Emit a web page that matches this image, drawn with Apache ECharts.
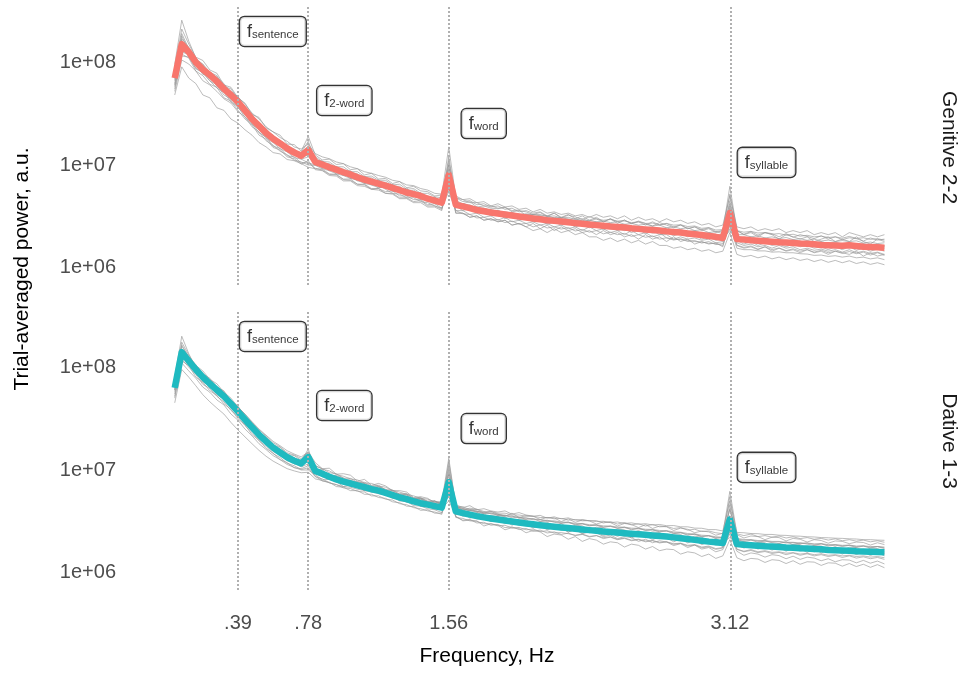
<!DOCTYPE html>
<html>
<head>
<meta charset="utf-8">
<script src="https://cdn.jsdelivr.net/npm/echarts@6/dist/echarts.min.js"></script>
<style>
  html, body { margin: 0; padding: 0; background: #ffffff; }
  #chart { width: 963px; height: 679px; }
</style>
</head>
<body>
<div id="chart"></div>
<script>
// Spectral bins: k * 0.0390625 Hz, k = 1..102
const binHz = 0.0390625;
const freqHz = Array.from({ length: 102 }, (_, i) => (i + 1) * binHz);

// Power values are stored in units of 1e6 a.u.
const UNIT = 1e6;

// Tagged rates and their tick labels
const markerHz = [0.390625, 0.78125, 1.5625, 3.125];
const markerTicks = ['.39', '.78', '1.56', '3.12'];
const markerNames = ['sentence', '2-word', 'word', 'syllable'];
const labelPower = [199, 42.4, 25.3, 10.6];

const yTickValues = [1e6, 1e7, 1e8];
const yTickLabels = ['1e+06', '1e+07', '1e+08'];

const conditions = ['Genitive 2-2', 'Dative 1-3'];

// Grand-average spectra
const genitiveMean = [
  70,150,125,100,85,75,65,55,48,41,
  34,28,24,20.5,18,16.2,14.5,13.2,12.3,14,
  10.7,10.1,9.5,9.0,8.5,8.1,7.6,7.2,6.9,6.6,
  6.3,6.0,5.7,5.4,5.2,5.0,4.7,4.5,4.3,8.0,
  4.1,3.95,3.8,3.65,3.55,3.45,3.38,3.3,3.22,3.15,
  3.08,3.02,2.96,2.9,2.86,2.82,2.77,2.72,2.68,2.64,
  2.6,2.56,2.52,2.49,2.46,2.42,2.39,2.36,2.33,2.3,
  2.26,2.23,2.2,2.16,2.12,2.08,2.04,2.0,1.95,3.4,
  1.9,1.88,1.85,1.83,1.81,1.79,1.77,1.76,1.74,1.72,
  1.71,1.69,1.67,1.66,1.65,1.64,1.66,1.63,1.6,1.59,1.58,1.57
];
const dativeMean = [
  63,140,115,95,80,69,60,52,44,37,
  31,26,22,19,16.5,14.8,13.3,12.3,11.6,13.4,
  9.8,9.2,8.6,8.1,7.7,7.4,7.1,6.8,6.5,6.3,
  6.0,5.7,5.4,5.2,4.95,4.75,4.6,4.45,4.3,7.6,
  3.95,3.8,3.68,3.56,3.46,3.38,3.3,3.22,3.15,3.08,
  3.02,2.96,2.9,2.85,2.8,2.76,2.72,2.68,2.64,2.6,
  2.56,2.52,2.49,2.46,2.43,2.4,2.37,2.34,2.31,2.28,
  2.25,2.21,2.17,2.13,2.09,2.05,2.01,1.98,1.95,3.3,
  1.9,1.87,1.85,1.83,1.81,1.8,1.78,1.76,1.75,1.73,
  1.72,1.7,1.69,1.67,1.66,1.65,1.64,1.62,1.61,1.6,1.59,1.58
];

// Per-participant spectra, Genitive 2-2
const genitiveSubjects = [
  [85,210,150,112,104,84,78,60,57,45, 40,31,29,23,21,19.5,16,15.8,13.6,19, 12.5,11.2,11.4,10.1,10.3,9.0,9.2,8.0,8.3,7.3, 7.4,6.6,6.9,6.0,6.2,5.6,5.5,5.0,5.1,15, 4.8,4.4,4.5,4.1,4.2,3.9,4.0,3.7,3.8,3.5, 3.6,3.4,3.5,3.2,3.4,3.1,3.3,3.0,3.2,2.9, 3.1,2.8,3.0,2.8,2.9,2.7,2.8,2.6,2.8,2.6, 2.7,2.5,2.6,2.4,2.5,2.3,2.4,2.2,2.3,6.2, 2.3,2.1,2.2,2.0,2.2,2.1,1.9,2.1,2.0,1.9, 2.0,1.8,1.9,2.0,1.8,1.9,1.8,2.0,1.8,1.7,1.9,1.8],
  [55,120,110,82,74,61,57,45,42,34, 28,24.5,19.5,17.8,14.8,14,12,11.5,10.2,11, 9.0,8.8,7.9,7.8,7.0,7.0,6.3,6.2,5.8,5.7, 5.3,5.2,4.7,4.7,4.3,4.3,3.9,3.9,3.6,7.5, 3.4,3.4,3.1,3.2,2.9,3.0,2.8,2.9,2.6,2.7, 2.5,2.7,2.4,2.6,2.3,2.5,2.3,2.4,2.2,2.3, 2.1,2.3,2.1,2.2,2.0,2.1,1.9,2.1,1.9,2.0, 1.8,2.0,1.8,1.9,1.7,1.8,1.7,1.75,1.6,3.0, 1.65,1.55,1.6,1.5,1.6,1.45,1.55,1.45,1.5,1.4, 1.5,1.4,1.45,1.35,1.45,1.4,1.35,1.45,1.3,1.4,1.3,1.35],
  [75,160,130,98,88,72,67,53,50,40, 35,27,25,20,18.5,15.8,15,13,12.8,15, 12,10.8,10.7,9.6,9.6,8.6,8.6,7.7,7.8,7.1, 7.1,6.4,6.5,5.8,5.9,5.3,5.3,4.9,4.8,11, 5.0,4.6,4.7,4.3,4.4,4.0,4.2,3.9,4.0,3.7, 3.8,3.5,3.7,3.4,3.5,3.3,3.4,3.2,3.3,3.1, 3.3,3.1,3.2,3.0,3.2,2.9,3.1,2.9,3.0,2.8, 3.0,2.8,2.9,2.7,2.8,2.6,2.7,2.5,2.6,5.0, 2.5,2.4,2.5,2.3,2.4,2.3,2.4,2.2,2.3,2.2, 2.3,2.1,2.2,2.1,2.2,2.0,2.2,2.1,2.0,2.1,2.0,2.1],
  [70,170,140,108,96,80,74,58,55,44, 37,28,26,21,19.5,16.5,15.6,13.5,13.2,13, 10.0,9.8,8.8,8.8,7.9,7.8,7.0,7.0,6.4,6.4, 5.8,5.3,5.2,4.8,4.8,4.4,4.3,4.0,3.8,7.0, 3.4,3.4,3.1,3.2,2.9,3.0,2.8,2.9,2.6,2.7, 2.5,2.3,2.4,2.2,2.4,2.2,2.3,2.1,2.2,2.0, 2.0,1.85,1.95,1.8,1.9,1.75,1.85,1.7,1.8,1.65, 1.65,1.55,1.6,1.5,1.55,1.45,1.5,1.4,1.45,2.2, 1.35,1.28,1.32,1.25,1.3,1.22,1.27,1.2,1.25,1.18, 1.22,1.15,1.2,1.13,1.18,1.12,1.17,1.1,1.14,1.08,1.12,1.07],
  [48,90,70,62,48,45,36,34,28,25.5, 22,19.5,16.5,15,13.2,12.8,11.3,11,10.3,9.5, 9.2,9.1,8.2,8.1,7.3,7.3,6.5,6.5,5.9,5.9, 5.5,5.6,5.0,5.0,4.6,4.6,4.1,4.2,3.8,5.5, 3.6,3.6,3.3,3.4,3.1,3.2,2.9,3.1,2.8,2.9, 2.7,2.8,2.6,2.7,2.5,2.6,2.4,2.5,2.3,2.5, 2.3,2.4,2.2,2.3,2.1,2.3,2.1,2.2,2.0,2.1, 2.1,1.9,2.0,1.9,1.95,1.85,1.9,1.75,1.8,2.4, 1.75,1.65,1.7,1.6,1.65,1.55,1.65,1.55,1.6,1.5, 1.55,1.48,1.52,1.45,1.5,1.42,1.5,1.4,1.45,1.38,1.42,1.35],
  [95,256,160,110,82,72,62,57,46,42, 33,29,23,21,17.5,16.8,14,13.6,12,12.5, 10.9,9.8,9.8,8.7,8.7,7.9,7.8,7.0,7.1,6.4, 6.5,5.8,5.9,5.2,5.4,4.8,4.9,4.4,4.4,9.0, 4.2,3.8,3.9,3.5,3.7,3.3,3.5,3.2,3.3,3.0, 3.2,2.9,3.1,2.8,2.9,2.7,2.9,2.6,2.8,2.55, 2.7,2.5,2.6,2.4,2.55,2.35,2.5,2.3,2.4,2.25, 2.35,2.15,2.3,2.1,2.2,2.0,2.15,1.95,2.0,3.8, 1.95,1.85,1.9,1.8,1.9,1.75,1.85,1.7,1.8,1.7, 1.75,1.65,1.72,1.6,1.7,1.6,1.7,1.58,1.65,1.55,1.62,1.55],
  [62,130,118,98,76,74,58,54,43,40, 31,27.5,22,20,16.6,15.8,13.5,12.9,11.4,12, 10.5,9.3,9.4,8.2,8.3,7.4,7.5,6.6,6.8,6.0, 6.2,5.5,5.6,5.0,5.1,4.6,4.6,4.2,4.2,6.0, 4.0,3.6,3.8,3.4,3.5,3.2,3.4,3.0,3.2,2.9, 3.0,2.8,2.9,2.65,2.8,2.6,2.7,2.5,2.6,2.45, 2.6,2.35,2.5,2.3,2.4,2.2,2.35,2.15,2.3,2.1, 2.2,2.05,2.15,2.0,2.1,1.9,2.0,1.85,1.9,2.8, 1.85,1.7,1.8,1.65,1.75,1.65,1.7,1.6,1.7,1.6, 1.65,1.55,1.6,1.5,1.6,1.5,1.6,1.48,1.55,1.45,1.52,1.45],
  [78,190,135,104,92,78,70,57,51,43, 37,29,26,21,19.5,16.8,15.6,13.6,13.2,17, 11.2,10.8,9.9,9.6,8.9,8.6,7.9,7.7,7.2,7.0, 6.6,6.4,5.9,5.8,5.4,5.3,4.9,4.8,4.5,12, 4.4,4.1,4.1,3.8,3.8,3.6,3.6,3.4,3.45,3.3, 3.3,3.15,3.2,3.0,3.1,2.95,3.0,2.85,2.9,2.75, 2.8,2.65,2.7,2.6,2.65,2.5,2.55,2.45,2.5,2.4, 2.45,2.3,2.35,2.25,2.3,2.15,2.2,2.1,2.1,4.5, 2.05,1.95,2.0,1.9,1.95,1.85,1.9,1.82,1.87,1.78, 1.83,1.75,1.8,1.72,1.78,1.7,1.76,1.68,1.72,1.65,1.7,1.63],
  [58,115,112,88,78,66,60,48,44,36, 31,25,22,18.2,16.5,14.4,13.4,11.8,11.4,10.5, 10.0,9.6,9.0,8.6,8.0,7.8,7.2,6.9,6.5,6.3, 6.4,5.9,5.8,5.3,5.3,4.9,4.8,4.4,4.4,6.8, 4.3,4.2,4.0,3.9,3.7,3.7,3.5,3.5,3.4,3.3, 3.3,3.3,3.2,3.2,3.05,3.1,2.95,3.0,2.85,2.9, 2.8,2.85,2.75,2.8,2.65,2.7,2.6,2.65,2.55,2.6, 2.45,2.5,2.4,2.45,2.3,2.35,2.2,2.25,2.15,3.1, 2.1,2.1,2.0,2.05,1.95,2.0,1.92,1.97,1.88,1.92, 1.85,1.9,1.82,1.86,1.8,1.84,1.8,1.83,1.74,1.78,1.72,1.75],
  [66,140,122,102,90,80,70,60,52,46, 39,32,28,23.5,21,18.5,17,15,14.3,16, 12.9,12.0,11.5,10.7,10.3,9.6,9.2,8.6,8.3,7.9, 7.6,7.1,6.9,6.4,6.3,5.9,5.7,5.3,5.2,10, 4.8,4.6,4.3,4.3,4.0,4.0,3.8,3.85,3.6,3.65, 3.2,3.2,3.05,3.1,2.95,3.0,2.85,2.9,2.75,2.8, 2.5,2.45,2.4,2.4,2.3,2.35,2.25,2.27,2.18,2.2, 1.95,1.9,1.88,1.85,1.8,1.78,1.73,1.72,1.65,2.6, 1.55,1.5,1.5,1.46,1.46,1.42,1.43,1.4,1.4,1.37, 1.36,1.32,1.33,1.29,1.31,1.27,1.3,1.25,1.27,1.22,1.25,1.2],
  [52,105,96,82,66,60,52,44,40,33, 29.5,23.5,21,17.2,15.6,13.6,12.6,11.1,10.7,10, 9.9,9.2,8.8,8.2,7.9,7.4,7.1,6.6,6.4,6.0, 6.1,5.9,5.6,5.5,5.1,5.1,4.6,4.6,4.2,8.5, 4.2,4.2,4.0,3.8,3.8,3.6,3.6,3.4,3.4,3.3, 3.35,3.3,3.3,3.15,3.2,3.05,3.1,2.95,3.0,2.85, 3.0,2.9,2.95,2.85,2.85,2.75,2.8,2.7,2.72,2.62, 2.7,2.6,2.62,2.52,2.55,2.42,2.46,2.33,2.35,4.2, 2.3,2.22,2.26,2.18,2.2,2.12,2.15,2.08,2.12,2.03, 2.07,2.0,2.03,1.97,2.0,1.94,2.02,1.93,1.96,1.89,1.92,1.86],
  [68,125,120,96,88,73,66,54,49,40, 34.5,27.5,24.5,20,18.3,15.9,14.8,12.9,12.5,12.5, 10.5,10.3,9.3,9.2,8.3,8.3,7.4,7.4,6.8,6.8, 6.1,6.2,5.5,5.6,5.0,5.1,4.6,4.6,4.2,5.8, 4.0,4.05,3.7,3.75,3.45,3.55,3.3,3.4,3.15,3.25, 3.0,3.1,2.9,3.0,2.8,2.9,2.7,2.8,2.62,2.72, 2.55,2.62,2.46,2.56,2.4,2.48,2.33,2.42,2.28,2.36, 2.2,2.3,2.15,2.22,2.07,2.14,1.99,2.08,1.92,2.3, 1.88,1.92,1.82,1.87,1.78,1.83,1.74,1.8,1.71,1.76, 1.68,1.74,1.64,1.7,1.62,1.68,1.63,1.66,1.57,1.63,1.55,1.6],
  [80,180,128,106,95,76,72,62,50,46, 36,31,25.5,22.5,18.8,17.4,15.2,14.3,12.6,13.5, 11.5,10.4,10.3,9.3,9.1,8.4,8.2,7.4,7.5,6.8, 6.8,6.2,6.2,5.5,5.7,5.1,5.0,4.7,4.5,10, 4.3,4.05,3.9,3.85,3.6,3.65,3.4,3.45,3.25,3.3, 3.05,3.15,2.92,3.05,2.85,2.8,2.9,2.66,2.78,2.6, 2.7,2.52,2.62,2.44,2.58,2.38,2.48,2.42,2.28,2.4, 2.3,2.18,2.3,2.12,2.2,2.15,2.0,2.1,1.96,4.0, 1.98,1.84,1.95,1.8,1.92,1.86,1.74,1.85,1.72,1.82, 1.76,1.66,1.78,1.64,1.74,1.62,1.73,1.68,1.58,1.7,1.6,1.64],
  [60,140,115,86,80,66,56,51,41,37, 29,25.5,20.5,18.8,15.2,14.5,12.3,12.0,10.5,10.5, 9.3,8.9,8.1,8.0,7.2,7.1,6.5,6.4,5.8,5.9, 5.3,5.3,4.8,4.8,4.4,4.5,4.0,4.0,3.7,6.2, 3.6,3.35,3.3,3.05,3.1,2.9,2.95,2.75,2.85,2.65, 2.7,2.5,2.62,2.44,2.5,2.38,2.46,2.28,2.36,2.22, 2.3,2.14,2.22,2.1,2.16,2.02,2.1,1.98,2.04,1.9, 1.96,1.86,1.92,1.8,1.84,1.74,1.8,1.68,1.72,2.6, 1.66,1.58,1.63,1.52,1.6,1.5,1.56,1.47,1.53,1.45, 1.5,1.42,1.48,1.4,1.45,1.38,1.44,1.37,1.42,1.33,1.4,1.32],
  [72,165,118,104,82,80,60,58,45,43, 32,30,22.5,22,16.8,17,13.8,14.2,11.6,15.5, 10.2,11.0,9.1,9.6,8.2,8.8,7.3,7.8,6.6,7.2, 6.0,6.5,5.4,6.0,4.9,5.4,4.5,4.9,4.1,9.5, 4.5,4.2,4.4,3.9,4.0,3.8,3.75,3.9,3.5,3.6, 3.5,3.3,3.45,3.15,3.4,3.05,3.25,3.12,2.95,3.15, 2.98,2.8,3.0,2.7,2.92,2.68,2.85,2.7,2.55,2.75, 2.6,2.45,2.62,2.4,2.5,2.35,2.45,2.25,2.3,5.2, 2.3,2.12,2.25,2.08,2.2,2.15,2.0,2.15,1.98,2.1, 2.02,1.92,2.05,1.9,2.0,1.88,1.96,1.92,1.82,1.95,1.86,1.9]
];

// Per-participant spectra, Dative 1-3
const dativeSubjects = [
  [72,175,131,104,92,76,69,57,50,41, 35,29,24.5,21.5,18.4,16.8,14.7,14.0,12.9,15, 11.1,10.2,9.8,9.0,8.7,8.2,8.0,7.5,7.4,7.0, 6.8,6.3,6.1,5.8,5.6,5.3,5.2,4.9,4.9,13, 4.45,4.2,4.15,3.95,3.9,3.75,3.72,3.58,3.56,3.42, 3.4,3.28,3.27,3.16,3.15,3.06,3.07,2.97,2.98,2.88, 2.9,2.8,2.82,2.73,2.75,2.66,2.68,2.6,2.61,2.53, 2.54,2.45,2.45,2.36,2.36,2.27,2.28,2.2,2.2,5.5, 2.14,2.07,2.09,2.03,2.04,1.99,2.0,1.95,1.97,1.92, 1.94,1.89,1.91,1.85,1.87,1.83,1.85,1.8,1.82,1.77,1.8,1.75],
  [52,115,104,80,71,59,53,44,39,31.5, 27.5,22,19.5,16.2,14.6,12.6,11.8,10.5,10.3,11, 8.7,7.8,7.6,6.9,6.8,6.3,6.3,5.8,5.8,5.4, 5.3,4.9,4.8,4.45,4.4,4.05,4.1,3.8,3.8,6.0, 3.5,3.25,3.3,3.05,3.1,2.9,2.95,2.75,2.8,2.63, 2.7,2.53,2.6,2.44,2.5,2.36,2.43,2.3,2.36,2.23, 2.3,2.15,2.22,2.1,2.16,2.05,2.1,2.0,2.05,1.95, 2.0,1.89,1.93,1.82,1.86,1.75,1.79,1.69,1.74,2.6, 1.69,1.6,1.65,1.57,1.61,1.54,1.58,1.5,1.56,1.48, 1.53,1.46,1.5,1.44,1.48,1.41,1.46,1.39,1.43,1.37,1.41,1.35],
  [66,150,112,97,78,71,58,53,43,38, 30,26.5,21.5,19.5,16.2,15.2,13.1,12.7,11.5,14, 10.2,9.8,9.0,8.7,8.1,8.0,7.5,7.4,6.9,6.9, 6.4,6.3,5.8,5.8,5.3,5.3,5.0,5.0,4.7,10, 4.4,4.4,4.1,4.15,3.95,3.95,3.8,3.8,3.65,3.65, 3.55,3.55,3.45,3.45,3.35,3.38,3.25,3.3,3.2,3.22, 3.15,3.17,3.08,3.12,3.02,3.06,2.97,3.0,2.92,2.95, 2.87,2.88,2.8,2.8,2.72,2.71,2.63,2.63,2.55,5.0, 2.47,2.45,2.41,2.4,2.36,2.36,2.32,2.31,2.28,2.27, 2.24,2.23,2.2,2.19,2.17,2.16,2.14,2.13,2.1,2.1,2.08,2.07],
  [68,160,126,103,86,75,64,57,47,40, 33.5,28,23.5,20.5,17.6,15.9,14.1,13.1,12.1,12.5, 10.0,9.5,8.7,8.3,7.7,7.5,7.0,6.8,6.3,6.2, 5.7,5.5,5.0,4.95,4.5,4.45,4.2,4.1,3.85,7.0, 3.55,3.2,3.25,3.2,2.85,3.0,2.9,2.62,2.75,2.7, 2.45,2.58,2.5,2.25,2.38,2.33,2.12,2.25,2.02,2.15, 2.08,1.9,2.0,1.96,1.78,1.9,1.85,1.7,1.8,1.64, 1.7,1.68,1.52,1.6,1.56,1.44,1.52,1.38,1.46,2.1, 1.4,1.31,1.38,1.36,1.26,1.34,1.32,1.23,1.31,1.21, 1.28,1.27,1.18,1.25,1.24,1.16,1.23,1.15,1.21,1.13,1.2,1.12],
  [45,95,80,66,54,46,40,35,29,24.5, 21,18,15.5,13.6,12.2,11.2,10.3,9.8,9.4,9.5, 8.2,7.9,7.5,7.2,6.9,6.8,6.5,6.3,6.1,5.9, 5.7,5.4,5.2,5.0,4.8,4.6,4.5,4.3,4.2,5.0, 3.7,3.85,3.4,3.6,3.45,3.15,3.3,3.25,2.9,3.1, 2.98,2.72,2.9,2.62,2.78,2.74,2.48,2.66,2.42,2.58, 2.52,2.3,2.45,2.26,2.4,2.18,2.34,2.3,2.1,2.25, 2.2,2.0,2.14,1.95,2.08,1.88,2.0,1.96,1.8,2.5, 1.88,1.74,1.84,1.7,1.8,1.66,1.77,1.62,1.74,1.72, 1.58,1.7,1.56,1.67,1.65,1.52,1.63,1.5,1.6,1.47,1.58,1.46],
  [80,200,135,98,78,72,58,55,42,39, 29.5,27.5,20.8,19.8,15.6,15.4,12.6,12.9,11.0,13, 10.4,8.8,9.1,7.7,8.1,7.0,7.5,6.4,6.9,5.9, 6.3,5.4,5.7,4.9,5.2,4.5,4.8,4.2,4.5,9.0, 4.15,3.6,3.9,3.4,3.65,3.2,3.45,3.06,3.3,2.95, 3.15,2.82,3.03,2.72,2.92,2.64,2.83,2.56,2.75,2.5, 2.68,2.42,2.6,2.36,2.54,2.3,2.47,2.25,2.41,2.2, 2.34,2.12,2.27,2.04,2.18,1.98,2.1,1.9,2.02,3.6, 1.98,1.8,1.93,1.76,1.9,1.73,1.86,1.7,1.83,1.67, 1.8,1.65,1.77,1.62,1.74,1.6,1.71,1.58,1.69,1.56,1.67,1.54],
  [58,125,112,86,79,63,59,48,43,34, 30.5,24.2,21.8,17.6,16.3,13.8,13.2,11.4,11.4,12, 9.6,8.6,8.4,7.6,7.5,6.9,6.9,6.3,6.3,5.9, 5.8,5.3,5.2,4.85,4.8,4.45,4.45,4.15,4.15,7.5, 3.85,3.55,3.6,3.35,3.36,3.16,3.2,3.02,3.06,2.9, 2.95,2.78,2.84,2.68,2.74,2.6,2.66,2.52,2.58,2.45, 2.5,2.38,2.43,2.32,2.37,2.26,2.31,2.2,2.26,2.15, 2.2,2.08,2.12,2.0,2.04,1.92,1.96,1.86,1.9,3.0, 1.85,1.76,1.8,1.72,1.77,1.69,1.74,1.66,1.71,1.63, 1.68,1.6,1.66,1.58,1.63,1.56,1.61,1.53,1.58,1.51,1.56,1.5],
  [65,150,122,101,83,73,63,55,46,39, 32.5,27.5,23,20,17.3,15.6,13.9,13,12.1,16, 10.0,10.1,8.7,8.8,8.4,7.5,7.7,7.4,6.6,6.9, 6.5,5.8,5.9,5.7,5.0,5.2,4.9,4.6,4.7,11, 4.0,4.15,3.7,3.85,3.75,3.4,3.6,3.5,3.15,3.35, 3.28,2.95,3.15,3.1,2.85,3.02,2.72,2.9,2.86,2.62, 2.78,2.74,2.5,2.66,2.62,2.42,2.58,2.38,2.5,2.46, 2.25,2.4,2.36,2.15,2.27,2.22,2.02,2.15,1.98,4.6, 2.06,2.02,1.86,1.98,1.96,1.8,1.93,1.78,1.9,1.88, 1.74,1.84,1.82,1.69,1.8,1.66,1.77,1.76,1.62,1.74,1.72,1.6],
  [60,130,104,88,72,65,54,49,40,35, 28,24.5,20,17.8,15.1,14,12.3,11.7,10.7,11.5, 9.2,8.8,8.2,7.9,7.5,7.3,7.0,6.8,6.5,6.4, 6.1,5.85,5.6,5.4,5.2,5.0,4.9,4.75,4.6,6.5, 4.3,4.15,4.05,3.95,3.85,3.75,3.7,3.6,3.55,3.45, 3.42,3.33,3.3,3.22,3.2,3.12,3.1,3.03,3.01,2.94, 2.93,2.86,2.85,2.79,2.78,2.72,2.71,2.65,2.64,2.58, 2.57,2.5,2.48,2.41,2.39,2.32,2.3,2.24,2.22,3.2, 2.16,2.11,2.1,2.06,2.06,2.02,2.02,1.98,1.98,1.94, 1.95,1.91,1.92,1.88,1.88,1.85,1.86,1.82,1.83,1.8,1.8,1.78],
  [62,140,118,98,84,72,64,56,48,41, 35,29.5,25,21.8,19,17.2,15.4,14.3,13.4,15, 11.8,10.3,10.4,9.1,9.2,8.9,7.8,8.1,7.1,7.4, 7.0,6.3,6.3,6.1,5.4,5.5,5.3,4.8,4.9,9.5, 4.4,3.95,4.05,3.9,3.5,3.6,3.55,3.2,3.3,3.25, 2.9,3.05,2.95,2.7,2.8,2.75,2.5,2.62,2.4,2.5, 2.45,2.25,2.33,2.15,2.25,2.2,2.02,2.12,1.96,2.05, 1.99,1.84,1.92,1.76,1.86,1.7,1.76,1.6,1.68,2.4, 1.62,1.48,1.56,1.52,1.42,1.5,1.47,1.37,1.45,1.35, 1.42,1.39,1.31,1.37,1.28,1.34,1.33,1.25,1.32,1.24,1.3,1.22],
  [50,110,92,78,64,57,48,43,35,30.5, 25,21.5,18,15.8,13.8,12.6,11.3,10.6,10.0,10, 9.0,8.0,8.1,7.7,6.9,7.2,7.0,6.3,6.5,6.4, 5.8,5.9,5.7,5.1,5.3,5.2,4.7,4.9,4.8,8.0, 4.5,4.05,4.25,4.15,3.8,3.95,3.7,3.55,3.8,3.45, 3.6,3.55,3.3,3.45,3.42,3.15,3.35,3.1,3.25,3.2, 2.98,3.12,3.08,2.85,3.02,2.95,2.75,2.94,2.7,2.85, 2.8,2.58,2.72,2.65,2.45,2.55,2.5,2.32,2.42,4.1, 2.35,2.18,2.28,2.25,2.1,2.22,2.2,2.04,2.16,2.12, 1.99,2.1,2.06,1.94,2.04,2.02,1.92,1.99,1.97,1.86,1.96,1.88],
  [66,120,120,92,82,67,62,50,46,36, 32.5,25,22.8,18.5,17,14.4,13.7,12,11.9,12, 10.1,9.1,8.9,8.0,7.9,7.2,7.3,6.6,6.7,6.1, 6.2,5.6,5.6,5.1,5.1,4.65,4.75,4.35,4.45,5.5, 4.05,3.72,3.8,3.48,3.55,3.3,3.38,3.14,3.24,3.0, 3.1,2.88,2.98,2.78,2.88,2.69,2.8,2.61,2.72,2.53, 2.64,2.46,2.57,2.4,2.5,2.34,2.44,2.28,2.38,2.22, 2.31,2.15,2.23,2.07,2.15,1.99,2.07,1.92,2.0,2.2, 1.95,1.82,1.91,1.78,1.87,1.75,1.84,1.72,1.81,1.69, 1.78,1.66,1.75,1.64,1.73,1.62,1.7,1.6,1.68,1.58,1.66,1.56],
  [70,165,125,106,86,78,64,59,47,42, 33,29,23.5,21,17.5,16.6,14.2,13.8,12.4,14, 10.9,10.3,9.4,9.2,8.3,8.3,7.6,7.6,7.0,7.1, 6.4,6.4,5.8,5.9,5.3,5.4,4.9,5.0,4.6,9.0, 4.4,4.25,4.0,4.0,3.75,3.85,3.6,3.65,3.42,3.5, 3.3,3.38,3.15,3.25,3.1,3.02,3.12,2.92,3.02,2.86, 2.92,2.76,2.85,2.7,2.78,2.62,2.72,2.58,2.62,2.5, 2.56,2.4,2.46,2.32,2.38,2.24,2.3,2.16,2.2,4.2, 2.12,2.0,2.08,1.98,2.04,1.96,1.92,2.0,1.88,1.96, 1.9,1.84,1.92,1.82,1.86,1.8,1.85,1.76,1.82,1.74,1.8,1.72],
  [55,120,100,85,68,62,52,46,38,33, 27,23.2,19.2,17,14.4,13.2,11.6,11.0,10.1,10.5, 8.6,8.2,7.5,7.2,6.7,6.6,6.2,6.1,5.6,5.6, 5.2,5.1,4.7,4.6,4.3,4.2,4.0,3.9,3.7,6.5, 3.45,3.38,3.2,3.16,3.0,3.0,2.86,2.9,2.72,2.76, 2.62,2.66,2.52,2.56,2.44,2.46,2.4,2.32,2.38,2.26, 2.3,2.2,2.24,2.12,2.18,2.08,2.12,2.04,2.06,1.98, 2.0,1.92,1.94,1.85,1.88,1.78,1.82,1.72,1.76,2.8, 1.7,1.62,1.68,1.6,1.64,1.58,1.6,1.55,1.57,1.52, 1.55,1.5,1.53,1.48,1.5,1.46,1.48,1.44,1.46,1.42,1.44,1.4],
  [60,145,110,96,77,72,57,54,42,39, 30,27.5,21,19.8,15.8,15.2,12.8,12.6,11.2,13, 10.0,9.6,8.7,8.6,7.9,7.9,7.2,7.3,6.6,6.8, 6.2,6.2,5.6,5.7,5.2,5.3,4.8,5.0,4.5,12, 4.6,4.3,4.5,4.1,4.2,4.0,3.9,4.0,3.72,3.85, 3.65,3.55,3.62,3.4,3.5,3.35,3.42,3.25,3.3,3.2, 3.22,3.05,3.15,2.98,3.08,2.92,3.0,2.85,2.95,2.8, 2.82,2.7,2.75,2.6,2.65,2.52,2.55,2.45,2.4,6.2, 2.4,2.3,2.38,2.25,2.3,2.22,2.28,2.18,2.24,2.15, 2.2,2.12,2.16,2.08,2.14,2.05,2.1,2.03,2.08,2.0,2.05,1.98]
];

const panels = [
  { name: conditions[0], mean: genitiveMean, subjects: genitiveSubjects, color: '#F8766D' },
  { name: conditions[1], mean: dativeMean, subjects: dativeSubjects, color: '#1FBAC0' }
];

const FONT = '"Liberation Sans", Arial, Helvetica, sans-serif';
const PANEL_TOP = [5, 310];
const PANEL_H = 280;
const labelGap = [2, 9, 13, 8];

const toPairs = arr => arr.map((v, i) => [freqHz[i], v * UNIT]);
const nearestIndex = (list, v) => {
  let best = 0;
  list.forEach((x, i) => { if (Math.abs(x - v) < Math.abs(list[best] - v)) best = i; });
  return best;
};

const grids = [], xAxes = [], yAxes = [], series = [];

panels.forEach((p, idx) => {
  grids.push({ left: 140, right: 43, top: PANEL_TOP[idx], height: PANEL_H });
  xAxes.push({
    type: 'value', gridIndex: idx, min: -0.154, max: 4.182,
    axisLine: { show: false }, axisTick: { show: false }, splitLine: { show: false },
    axisLabel: {
      show: idx === 1, customValues: markerHz, margin: 23,
      fontFamily: FONT, fontSize: 20, color: '#4d4d4d',
      formatter: v => markerTicks[nearestIndex(markerHz, v)]
    }
  });
  yAxes.push({
    type: 'log', logBase: 10, gridIndex: idx, min: 6.8e5, max: 3.6e8,
    axisLine: { show: false }, axisTick: { show: false }, splitLine: { show: false },
    axisLabel: {
      customValues: yTickValues, margin: 24,
      fontFamily: FONT, fontSize: 20, color: '#4d4d4d',
      formatter: v => yTickLabels[nearestIndex(yTickValues, v)]
    }
  });

  // dotted guides at the tagged rates
  series.push({
    type: 'line', xAxisIndex: idx, yAxisIndex: idx, data: [], z: 1, silent: true,
    markLine: {
      silent: true, symbol: ['none', 'none'], label: { show: false },
      lineStyle: { color: '#b0b0b0', width: 2, type: [2, 2] },
      data: markerHz.map(f => ({ xAxis: f }))
    }
  });

  p.subjects.forEach(s => {
    series.push({
      type: 'line', xAxisIndex: idx, yAxisIndex: idx, data: toPairs(s),
      symbol: 'none', silent: true, z: 2,
      lineStyle: { color: 'rgba(150,150,150,0.8)', width: 0.8 }
    });
  });

  series.push({
    type: 'line', xAxisIndex: idx, yAxisIndex: idx, data: toPairs(p.mean),
    symbol: 'none', silent: true, z: 3,
    lineStyle: { color: p.color, width: 6.5, join: 'round', cap: 'butt' }
  });

  series.push({
    type: 'scatter', xAxisIndex: idx, yAxisIndex: idx, symbolSize: 0, silent: true, z: 5,
    data: markerHz.map((f, i) => ({ value: [f, labelPower[i] * UNIT], label: { distance: labelGap[i] } })),
    label: {
      show: true, position: 'right',
      formatter: prm => '{f|f}{s|' + markerNames[prm.dataIndex] + '}',
      backgroundColor: '#ffffff', borderColor: '#000000', borderWidth: 1.3, borderRadius: 4.5,
      padding: [6, 7, 5, 7],
      rich: {
        f: { fontFamily: FONT, fontSize: 18, lineHeight: 18, verticalAlign: 'bottom', color: '#000000' },
        s: { fontFamily: FONT, fontSize: 11.5, lineHeight: 13, verticalAlign: 'bottom', color: '#000000' }
      }
    }
  });
});

const chart = echarts.init(document.getElementById('chart'), null, { renderer: 'canvas' });
chart.setOption({
  backgroundColor: '#ffffff',
  animation: false,
  grid: grids,
  xAxis: xAxes,
  yAxis: yAxes,
  series: series,
  graphic: [
    { type: 'text', x: 22.5, y: 269, rotation: Math.PI / 2,
      style: { text: 'Trial-averaged power, a.u.', font: '21px ' + FONT, fill: '#000000', align: 'center', verticalAlign: 'middle' } },
    { type: 'text', x: 487, y: 656,
      style: { text: 'Frequency, Hz', font: '21px ' + FONT, fill: '#000000', align: 'center', verticalAlign: 'middle' } },
    { type: 'text', x: 948.5, y: 147.5, rotation: -Math.PI / 2,
      style: { text: conditions[0], font: '21px ' + FONT, fill: '#1a1a1a', align: 'center', verticalAlign: 'middle' } },
    { type: 'text', x: 948.5, y: 441, rotation: -Math.PI / 2,
      style: { text: conditions[1], font: '21px ' + FONT, fill: '#1a1a1a', align: 'center', verticalAlign: 'middle' } }
  ]
});
</script>
</body>
</html>
